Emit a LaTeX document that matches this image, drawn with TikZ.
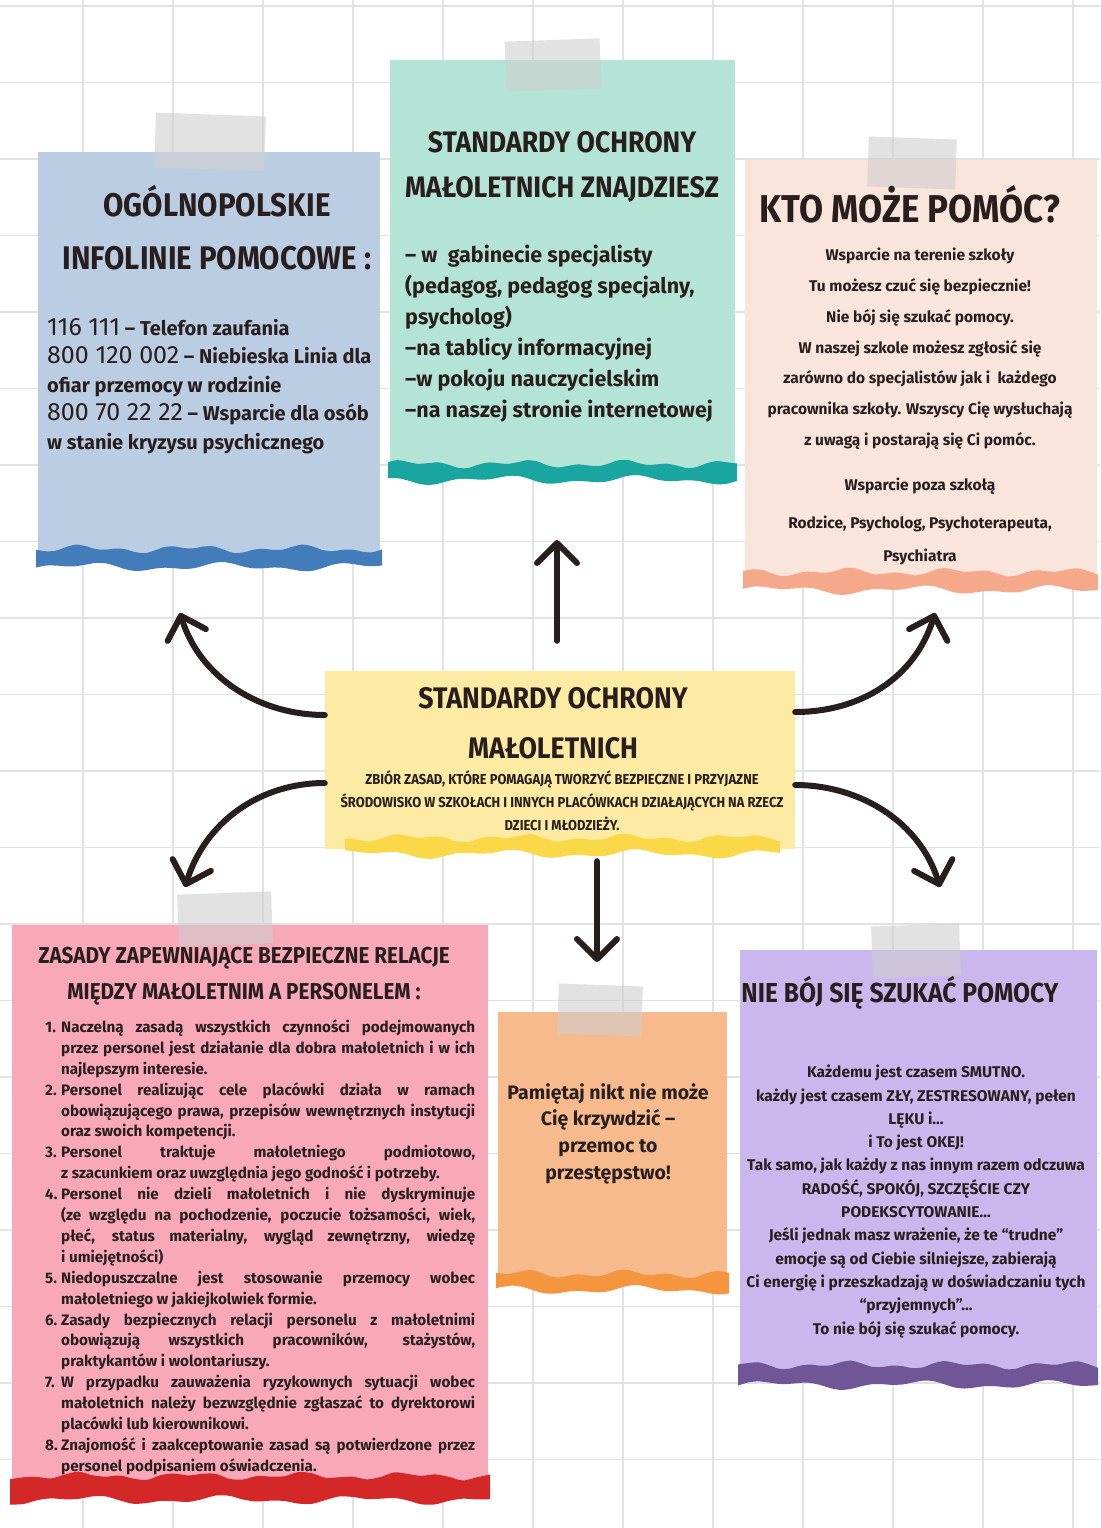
\documentclass[tikz,border=0pt]{standalone}
\usepackage{fontspec}
\setmainfont{Fira Sans}
\newfontfamily\tfont[FakeStretch=0.9]{Fira Sans}
\usetikzlibrary{arrows.meta}
\definecolor{bluebg}{RGB}{187,205,226}
\definecolor{blueband}{RGB}{66,124,186}
\definecolor{greenbg}{RGB}{180,228,213}
\definecolor{greenband}{RGB}{25,165,160}
\definecolor{peachbg}{RGB}{250,229,221}
\definecolor{peachband}{RGB}{245,168,138}
\definecolor{yellowbg}{RGB}{253,234,163}
\definecolor{yellowband}{RGB}{250,216,72}
\definecolor{pinkbg}{RGB}{248,168,184}
\definecolor{redband}{RGB}{212,40,40}
\definecolor{orangebg}{RGB}{247,186,141}
\definecolor{orangeband}{RGB}{245,150,62}
\definecolor{purplebg}{RGB}{201,183,238}
\definecolor{purpleband}{RGB}{112,86,150}
\definecolor{ink}{RGB}{40,30,30}
\definecolor{gridc}{RGB}{226,226,230}
\newcommand\wavyband[5]{%
  \fill[#5] plot[smooth,domain=#1:#2,samples=36] (\x,{#3-#4/2+2.5*sin(3.3*\x)+2*sin(7.9*\x+30)})
  -- plot[smooth,domain=#2:#1,samples=36] (\x,{#3+#4/2+3*sin(2.6*\x+50)+2*sin(6.1*\x)}) -- cycle;}
\newcommand\myitem[2]{\hangindent=16pt\hangafter=1\noindent\makebox[16pt][l]{#1}#2\par}
\newcommand\dg[1]{{\mdseries\fontsize{25}{28.6}\selectfont #1}}
\begin{document}
\begin{tikzpicture}[x=1pt,y=-1pt,
  txt/.style={inner sep=0pt, text=ink},
  box/.style={inner sep=0pt, anchor=north west, draw=none},
  tape/.style={inner sep=0pt, fill=gray!38, fill opacity=0.6, draw=none},
  arr/.style={line width=6pt, line cap=round, draw=ink, -{Straight Barb[length=20pt,width=40pt,round]}},
  gridline/.style={draw=gridc, line width=1.3pt}]
\useasboundingbox (0,0) rectangle (1100,1528);
\fill[white] (0,0) rectangle (1100,1528);
% grid
\foreach \gx in {83,173,...,1100} \draw[gridline] (\gx,0) -- (\gx,1528);
\foreach \i in {0,...,19} \draw[gridline] (0,{6+76.5*\i}) -- (1100,{6+76.5*\i});

% boxes
\node[box, fill=bluebg, minimum width=342pt, minimum height=406pt] (bluebox) at (38,152) {};
\wavyband{36}{382}{558}{18}{blueband}
\node[box, fill=greenbg, minimum width=345pt, minimum height=412pt] (greenbox) at (390,60) {};
\wavyband{388}{737}{472}{16}{greenband}
\node[box, fill=peachbg, minimum width=352pt, minimum height=421pt] (peachbox) at (745,160) {};
\wavyband{743}{1098}{581}{18}{peachband}
\node[box, fill=pinkbg, minimum width=476pt, minimum height=563pt] (pinkbox) at (12,925) {};
\wavyband{10}{490}{1488}{24}{redband}
\node[box, fill=orangebg, minimum width=229pt, minimum height=270pt] (orangebox) at (498,1012) {};
\wavyband{496}{729}{1282}{16}{orangeband}
\node[box, fill=purplebg, minimum width=357pt, minimum height=425pt] (purplebox) at (740,950) {};
\wavyband{738}{1098}{1375}{20}{purpleband}
\node[inner sep=0pt, fill=yellowbg, minimum width=470pt, minimum height=178pt] (center) at (560,760) {};
\wavyband{345}{780}{846}{16}{yellowband}

% tapes
\node[tape, minimum width=110pt, minimum height=55pt, rotate=-2] (tape1) at (210,142) {};
\node[tape, minimum width=95pt, minimum height=50pt, rotate=2] (tape2) at (553,65) {};
\node[tape, minimum width=88pt, minimum height=50pt, rotate=-2] (tape3) at (912,163) {};
\node[tape, minimum width=94pt, minimum height=52pt, rotate=2] (tape4) at (225,919) {};
\node[tape, minimum width=84pt, minimum height=50pt, rotate=-2] (tape5) at (600,1010) {};
\node[tape, minimum width=88pt, minimum height=52pt, rotate=2] (tape6) at (916,951) {};

% blue box texts
\node[txt, anchor=north, align=center, font=\tfont\bfseries\fontsize{32.7}{53}\selectfont] (bluet) at (217,185.5)
  {OGÓLNOPOLSKIE\\INFOLINIE POMOCOWE :};
\node[txt, anchor=north west, align=left, font=\bfseries\fontsize{20}{28.6}\selectfont] (blueb) at (47,318)
  {\dg{116 111} – Telefon zaufania\\
   \dg{800 120 002} – Niebieska Linia dla\\
   ofiar przemocy w rodzinie\\
   \dg{800 70 22 22} – Wsparcie dla osób\\
   w stanie kryzysu psychicznego};

% green box texts
\node[txt, anchor=north, align=center, font=\tfont\bfseries\fontsize{29.6}{45}\selectfont] (greent) at (562,131)
  {STANDARDY OCHRONY\\MAŁOLETNICH ZNAJDZIESZ};
\node[txt, anchor=north west, align=left, font=\bfseries\fontsize{21.5}{31}\selectfont] (greenb) at (405,245)
  {– w \ gabinecie specjalisty\\
   (pedagog, pedagog specjalny,\\
   psycholog)\\
   –na tablicy informacyjnej\\
   –w pokoju nauczycielskim\\
   –na naszej stronie internetowej};

% peach box texts
\node[txt, anchor=north, align=center, font=\tfont\bfseries\fontsize{38.8}{40}\selectfont] (peacht) at (910,185)
  {KTO MOŻE POMÓC?};
\node[txt, anchor=north, align=center, font=\bfseries\fontsize{15.5}{30.8}\selectfont] (peachb) at (920,248)
  {Wsparcie na terenie szkoły\\
   Tu możesz czuć się bezpiecznie!\\
   Nie bój się szukać pomocy.\\
   W naszej szkole możesz zgłosić się\\
   zarówno do specjalistów jak i \ każdego\\
   pracownika szkoły. Wszyscy Cię wysłuchają\\
   z uwagą i postarają się Ci pomóc.};
\node[txt, anchor=north, align=center, font=\bfseries\fontsize{15.5}{30}\selectfont] (peachc) at (920,478)
  {Wsparcie poza szkołą};
\node[txt, anchor=north, align=center, font=\bfseries\fontsize{15.5}{33}\selectfont] (peachd) at (920,516)
  {Rodzice, Psycholog, Psychoterapeuta,\\Psychiatra};

% center texts
\node[txt, anchor=north, align=center, font=\tfont\bfseries\fontsize{29.7}{50}\selectfont] (centert) at (553,687.5)
  {STANDARDY OCHRONY\\MAŁOLETNICH};
\node[txt, anchor=north, align=center, font=\tfont\bfseries\fontsize{14.4}{23}\selectfont] (centerb) at (562,770.7)
  {ZBIÓR ZASAD, KTÓRE POMAGAJĄ TWORZYĆ BEZPIECZNE I PRZYJAZNE\\
   ŚRODOWISKO W SZKOŁACH I INNYCH PLACÓWKACH DZIAŁAJĄCYCH NA RZECZ\\
   DZIECI I MŁODZIEŻY.};

% pink box texts
\node[txt, anchor=north, align=center, font=\tfont\bfseries\fontsize{23}{36}\selectfont] (pinkt) at (244,947)
  {ZASADY ZAPEWNIAJĄCE BEZPIECZNE RELACJE\\MIĘDZY MAŁOLETNIM A PERSONELEM :};
\node[txt, anchor=north west, text width=430pt, align=justify, font=\bfseries\fontsize{15.2}{20.9}\selectfont] (pinkb) at (45,1019.5)
  {\hyphenpenalty=10000\exhyphenpenalty=10000
   \myitem{1.}{Naczelną zasadą wszystkich czynności podejmowanych przez personel jest działanie dla dobra małoletnich i w ich najlepszym interesie.}
   \myitem{2.}{Personel realizując cele placówki działa w ramach obowiązującego prawa, przepisów wewnętrznych instytucji oraz swoich kompetencji.}
   \myitem{3.}{Personel traktuje małoletniego podmiotowo,\linebreak z szacunkiem oraz uwzględnia jego godność i potrzeby.}
   \myitem{4.}{Personel nie dzieli małoletnich i nie dyskryminuje\linebreak (ze względu na pochodzenie, poczucie tożsamości, wiek, płeć, status materialny, wygląd zewnętrzny, wiedzę\linebreak i umiejętności)}
   \myitem{5.}{Niedopuszczalne jest stosowanie przemocy wobec małoletniego w jakiejkolwiek formie.}
   \myitem{6.}{Zasady bezpiecznych relacji personelu z małoletnimi obowiązują wszystkich pracowników, stażystów, praktykantów i wolontariuszy.}
   \myitem{7.}{W przypadku zauważenia ryzykownych sytuacji wobec małoletnich należy bezwzględnie zgłaszać to dyrektorowi placówki lub kierownikowi.}
   \myitem{8.}{Znajomość i zaakceptowanie zasad są potwierdzone przez personel podpisaniem oświadczenia.}};

% orange box text
\node[txt, anchor=north, align=center, font=\bfseries\fontsize{19.5}{26.7}\selectfont] (orangeb) at (608,1083)
  {Pamiętaj nikt nie może\\Cię krzywdzić –\\przemoc to\\przestępstwo!};

% purple box texts
\node[txt, anchor=north, align=center, font=\tfont\bfseries\fontsize{27.4}{30}\selectfont] (purplet) at (900,976.5)
  {NIE BÓJ SIĘ SZUKAĆ POMOCY};
\node[txt, anchor=north, align=center, font=\bfseries\fontsize{15.5}{23.3}\selectfont] (purpleb) at (916,1065)
  {Każdemu jest czasem SMUTNO.\\
   każdy jest czasem ZŁY, ZESTRESOWANY, pełen\\
   LĘKU i...\\
   i To jest OKEJ!\\
   Tak samo, jak każdy z nas innym razem odczuwa\\
   RADOŚĆ, SPOKÓJ, SZCZĘŚCIE CZY\\
   PODEKSCYTOWANIE...\\
   Jeśli jednak masz wrażenie, że te “trudne”\\
   emocje są od Ciebie silniejsze, zabierają\\
   Ci energię i przeszkadzają w doświadczaniu tych\\
   “przyjemnych”...\\
   To nie bój się szukać pomocy.};

% arrow targets
\coordinate (t1) at (180,613);
\coordinate (t2) at (557,540);
\coordinate (t3) at (935,613);
\coordinate (t4) at (185,887);
\coordinate (t5) at (597,962);
\coordinate (t6) at (940,887);

% arrows
\draw[arr] ([yshift=45pt]center.west) .. controls +(-65,0) and +(20,65) .. (t1);
\draw[arr] ([xshift=-3pt,yshift=30pt]center.north) -- (t2);
\draw[arr] ([yshift=48pt]center.east) .. controls +(65,0) and +(-20,65) .. (t3);
\draw[arr] ([yshift=-23pt]center.west) .. controls +(-65,0) and +(20,-65) .. (t4);
\draw[arr] ([xshift=37pt,yshift=-12pt]center.south) -- (t5);
\draw[arr] ([yshift=-25pt]center.east) .. controls +(65,0) and +(-20,-65) .. (t6);
\end{tikzpicture}
\end{document}
